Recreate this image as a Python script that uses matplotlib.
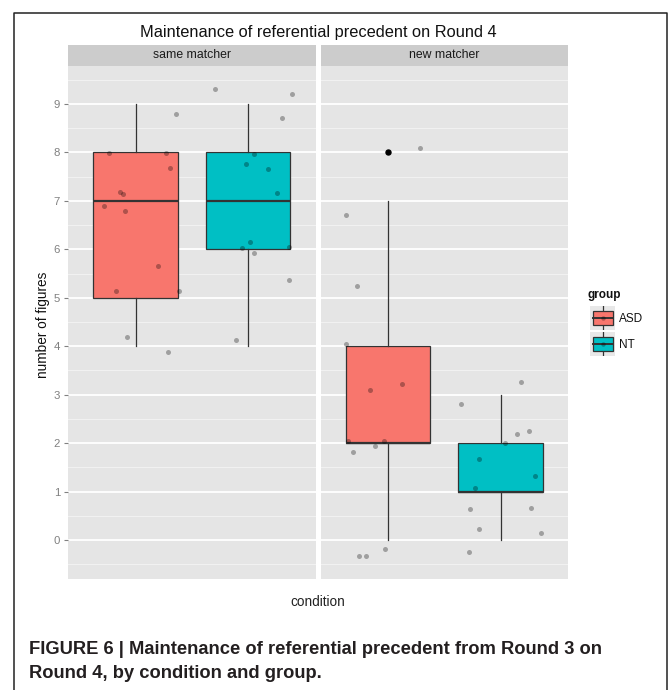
import matplotlib
matplotlib.use("Agg")
import matplotlib.pyplot as plt
from matplotlib.lines import Line2D
from matplotlib.patches import Rectangle
import numpy as np

plt.rcParams['font.family'] = ['Liberation Sans', 'DejaVu Sans']

# ---------------- data ----------------
conditions = ['same matcher', 'new matcher']
groups = ['ASD', 'NT']
group_colors = ['#F8766D', '#00BFC4']

# box statistics: (whislo, q1, med, q3, whishi)
same_ASD_box = [4, 5, 7, 8, 9]
same_NT_box = [4, 6, 7, 8, 9]
new_ASD_box = [0, 2, 2, 4, 7]
new_NT_box = [0, 1, 1, 2, 3]
same_ASD_out = []
same_NT_out = []
new_ASD_out = [8]
new_NT_out = []

# jittered points: horizontal offset from group position, and jittered value
same_ASD_dx = [-0.24, 0.27, 0.31, -0.14, -0.11, -0.28, -0.09, 0.20, -0.17, 0.39, 0.36, -0.08, 0.29]
same_ASD_y = [7.99, 7.99, 7.68, 7.19, 7.14, 6.90, 6.80, 5.66, 5.13, 5.13, 8.79, 4.19, 3.89]
same_NT_dx = [-0.29, 0.39, 0.30, 0.05, -0.02, 0.18, 0.26, 0.02, -0.05, 0.36, 0.05, 0.36, -0.11]
same_NT_y = [9.30, 9.21, 8.72, 7.97, 7.77, 7.66, 7.17, 6.15, 6.03, 6.05, 5.93, 5.37, 4.12]
new_ASD_dx = [0.28, -0.37, -0.28, -0.37, -0.16, 0.12, -0.36, -0.04, -0.31, -0.12, -0.26, -0.20, -0.03]
new_ASD_y = [8.09, 6.71, 5.25, 4.05, 3.10, 3.21, 2.05, 2.05, 1.81, 1.93, -0.33, -0.33, -0.18]
new_NT_dx = [0.18, -0.35, 0.15, 0.25, 0.04, -0.19, 0.31, -0.23, -0.27, 0.27, -0.19, 0.36, -0.28]
new_NT_y = [3.26, 2.80, 2.19, 2.24, 2.00, 1.67, 1.33, 1.08, 0.64, 0.67, 0.23, 0.14, -0.25]

y_ticks = [0, 1, 2, 3, 4, 5, 6, 7, 8, 9]

title = 'Maintenance of referential precedent on Round 4'
ylabel = 'number of figures'
xlabel = 'condition'
legend_title = 'group'
caption1 = 'FIGURE 6 | Maintenance of referential precedent from Round 3 on'
caption2 = 'Round 4, by condition and group.'

panels = [
    (conditions[0], [same_ASD_box, same_NT_box], [same_ASD_out, same_NT_out],
     [(same_ASD_dx, same_ASD_y), (same_NT_dx, same_NT_y)]),
    (conditions[1], [new_ASD_box, new_NT_box], [new_ASD_out, new_NT_out],
     [(new_ASD_dx, new_ASD_y), (new_NT_dx, new_NT_y)]),
]

# ---------------- figure ----------------
W, H = 669, 690
fig = plt.figure(figsize=(W / 100, H / 100), dpi=100)
fig.patch.set_facecolor('white')

def fx(px):
    return px / W

def fy(py):
    return 1 - py / H

panel_top, panel_bot = 66, 579
strip_top = 45
panel_lefts = [68, 320.5]
panel_w = 247.5

ylim = (-0.805, 9.784)

for i, (cond, boxes, outs, pts) in enumerate(panels):
    left = panel_lefts[i]
    ax = fig.add_axes([fx(left), fy(panel_bot), panel_w / W, (panel_bot - panel_top) / H])
    ax.set_facecolor('#E5E5E5')
    for s in ax.spines.values():
        s.set_visible(False)

    stats = []
    for b, o in zip(boxes, outs):
        stats.append(dict(whislo=b[0], q1=b[1], med=b[2], q3=b[3], whishi=b[4], fliers=o))
    bp = ax.bxp(stats, positions=[1, 2], widths=0.75, patch_artist=True, showcaps=False,
                manage_ticks=False,
                boxprops=dict(edgecolor='#333333', lw=0.9),
                whiskerprops=dict(color='#333333', lw=0.9),
                medianprops=dict(color='#333333', lw=1.6),
                flierprops=dict(marker='o', markerfacecolor='black', markeredgecolor='black',
                                markersize=3.6, linestyle='none'))
    for patch, c in zip(bp['boxes'], group_colors):
        patch.set_facecolor(c)
        patch.set_zorder(2)
    for k, (dx, yv) in enumerate(pts):
        xs = np.asarray(dx) + (k + 1)
        ax.scatter(xs, yv, s=13, color='black', alpha=0.3, linewidths=0, zorder=4)

    ax.set_xlim(0.4, 2.6)
    ax.set_ylim(*ylim)
    ax.set_xticks([])
    ax.set_yticks(y_ticks)
    ax.set_yticks([t + 0.5 for t in [-1] + y_ticks], minor=True)
    ax.grid(True, which='major', axis='y', color='white', lw=1.3)
    ax.grid(True, which='minor', axis='y', color='#F2F2F2', lw=0.7)
    ax.set_axisbelow(True)
    ax.tick_params(axis='y', which='minor', length=0)
    if i == 0:
        ax.tick_params(axis='y', which='major', length=3.2, width=0.8, color='#808080',
                       labelcolor='#808080', labelsize=8.2, pad=2.5)
    else:
        ax.tick_params(axis='y', which='major', length=0, labelleft=False)

    # strip
    sax = fig.add_axes([fx(left), fy(panel_top), panel_w / W, (panel_top - strip_top) / H])
    sax.set_facecolor('#CCCCCC')
    sax.set_xticks([]); sax.set_yticks([])
    for s in sax.spines.values():
        s.set_visible(False)
    sax.text(0.5, 0.5, cond, ha='center', va='center', fontsize=8.8, color='#1A1A1A',
             transform=sax.transAxes)

# title and axis labels
fig.text(fx(318), fy(33), title, ha='center', va='center', fontsize=11.8, color='#111111')
fig.text(fx(43), fy(325), ylabel, ha='center', va='center', rotation=90, fontsize=9.8,
         color='#111111')
fig.text(fx(318), fy(602), xlabel, ha='center', va='center', fontsize=9.8, color='#222222')

# legend
fig.text(fx(588), fy(295), legend_title, ha='left', va='center', fontsize=8.5,
         fontweight='bold', color='#111111')
key_tops = [306, 332]
for k, g in enumerate(groups):
    kt = key_tops[k]
    kax = fig.add_axes([fx(590), fy(kt + 24), 25 / W, 24 / H])
    kax.set_facecolor('#E8E8E8')
    kax.set_xlim(0, 1); kax.set_ylim(0, 1)
    kax.set_xticks([]); kax.set_yticks([])
    for s in kax.spines.values():
        s.set_visible(False)
    kax.plot([0.5, 0.5], [0, 1], color='#333333', lw=0.9)
    kax.add_patch(Rectangle((0.1, 0.2), 0.8, 0.6, facecolor=group_colors[k],
                            edgecolor='#333333', lw=0.9, zorder=3))
    kax.plot([0.1, 0.9], [0.5, 0.5], color='#333333', lw=1.4, zorder=4)
    kax.scatter([0.5], [0.5], s=10, color='black', alpha=0.3, linewidths=0, zorder=5)
    fig.text(fx(619), fy(kt + 13), g, ha='left', va='center', fontsize=8.5, color='#111111')

# caption
fig.text(fx(29), fy(654), caption1, ha='left', va='baseline', fontsize=13.2,
         fontweight='bold', color='#231F20')
fig.text(fx(29), fy(678), caption2, ha='left', va='baseline', fontsize=13.2,
         fontweight='bold', color='#231F20')

# frame around the figure (open at the bottom)
frame = Line2D([fx(14), fx(14), fx(666.5), fx(666.5)], [0, fy(12.5), fy(12.5), 0],
               transform=fig.transFigure, color='#222222', lw=1.1)
fig.add_artist(frame)

fig.savefig('out.png', dpi=100)
